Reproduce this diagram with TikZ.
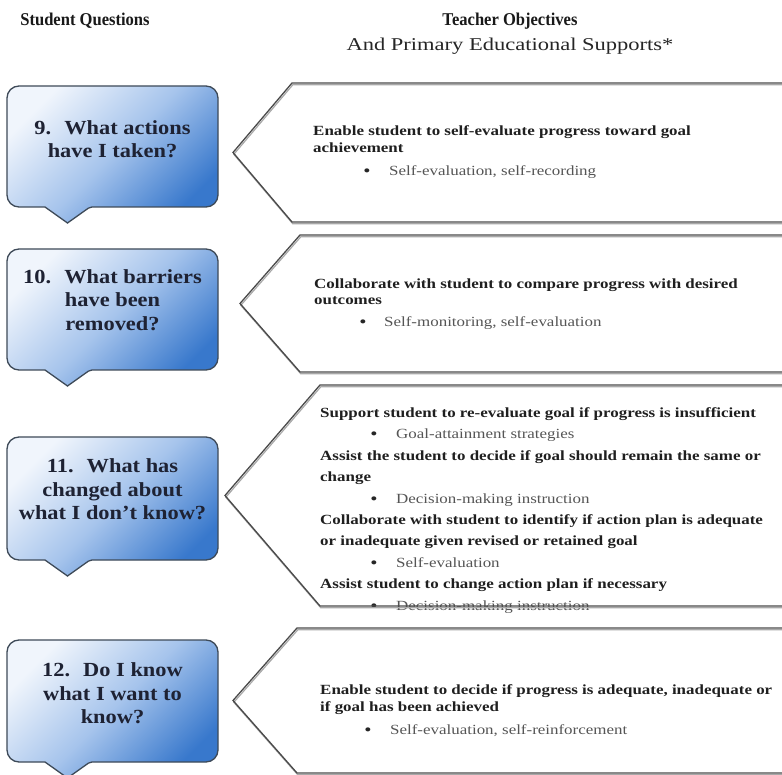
\documentclass[tikz,border=0pt]{standalone}
\usepackage{fontspec}
\setmainfont{Liberation Serif}
\newfontfamily\hdfont[FakeStretch=0.92]{Liberation Serif}
\newfontfamily\subfont[FakeStretch=1.25]{Liberation Serif}
\newfontfamily\qfont[FakeStretch=1.12]{Liberation Serif}
\newfontfamily\objfont[FakeStretch=1.21]{Liberation Serif}
\definecolor{qlight}{HTML}{F0F5FC}
\definecolor{qmid}{HTML}{A6C4EC}
\definecolor{qdark}{HTML}{3878CC}
\definecolor{qedge}{HTML}{3E4A58}
\definecolor{qtxt}{HTML}{1E2233}
\definecolor{oedge}{HTML}{4A4A4A}
\definecolor{oshadow}{HTML}{A8A8A8}
\definecolor{btxt}{HTML}{555555}

\newcommand\qcallout[2]{%
  \shadedraw[qbox] (112,#1) -- (218,#1) -- (218,#2) [rounded corners=2pt] -- (90,#2)
    [sharp corners] -- (67.5,#2+16) -- (45,#2) [rounded corners=12pt] -- (7,#2) -- (7,#1) -- cycle;}
\newcommand\objfill[4]{%
  \fill[white] (#3,{(#1+#2)/2}) -- (#4,#1) -- (800,#1) -- (800,#2) -- (#4,#2) -- cycle;}
\newcommand\objedge[4]{%
  \begin{scope}[shift={(0.8,1.8)}]
    \draw[oshadowline] (#3,{(#1+#2)/2}) -- (#4,#1) -- (800,#1) -- (800,#2) -- (#4,#2) -- cycle;
  \end{scope}
  \draw[oline] (#3,{(#1+#2)/2}) -- (#4,#1) -- (800,#1) -- (800,#2) -- (#4,#2) -- cycle;}

\begin{document}
\begin{tikzpicture}[x=1pt,y=-1pt,
  qbox/.style={draw=qedge, line width=1.3pt, rounded corners=12pt,
    top color=qlight, bottom color=qdark, middle color=qmid, shading angle=45},
  oline/.style={draw=oedge, line width=1.3pt, line join=miter},
  oshadowline/.style={draw=oshadow, line width=1.2pt},
  header/.style={font=\hdfont\bfseries\fontsize{18}{21}\selectfont, anchor=base, inner sep=0pt, text=black!90},
  subheader/.style={font=\subfont\fontsize{18}{21}\selectfont, anchor=base, inner sep=0pt, text=black!85},
  qtext/.style={font=\qfont\bfseries\fontsize{20}{23}\selectfont, anchor=base, inner sep=0pt, text=qtxt},
  otext/.style={font=\objfont\bfseries\fontsize{14}{17}\selectfont, anchor=base west, inner sep=0pt, text=black!88},
  oitem/.style={font=\objfont\fontsize{14}{17}\selectfont, anchor=base west, inner sep=0pt, text=btxt},
  obul/.style={font=\objfont\fontsize{17}{17}\selectfont, anchor=base, inner sep=0pt, text=black!85},
]
\useasboundingbox (0,0) rectangle (782,775);
\clip (0,0) rectangle (782,775);
\fill[white] (0,0) rectangle (782,775);

% headers
\node[header] (hsq) at (85,26) {Student Questions};
\node[header] (hto) at (510,26) {Teacher Objectives};
\node[subheader] (hsup) at (510,51) {And Primary Educational Supports*};

% left callouts
\qcallout{86}{207}
\qcallout{249}{370}
\qcallout{437}{560}
\qcallout{640}{762}

\node[qtext] (q9a) at (112.5,134.5) {9.~ What actions};
\node[qtext] (q9b) at (112.5,158) {have I taken?};

\node[qtext] (q10a) at (112.5,283.5) {10.~ What barriers};
\node[qtext] (q10b) at (112.5,307) {have been};
\node[qtext] (q10c) at (112.5,330.5) {removed?};

\node[qtext] (q11a) at (112.5,472.5) {11.~ What has};
\node[qtext] (q11b) at (112.5,496) {changed about};
\node[qtext] (q11c) at (112.5,519.5) {what I don’t know?};

\node[qtext] (q12a) at (112.5,676.5) {12.~ Do I know};
\node[qtext] (q12b) at (112.5,700) {what I want to};
\node[qtext] (q12c) at (112.5,723.5) {know?};

% right boxes (fill)
\objfill{83}{222}{233}{292}
\objfill{235}{372}{240}{300}
\objfill{385}{606}{225}{320}
\objfill{628}{773}{233}{297}

% box 9 text
\node[otext] (o9a) at (313,135.5) {Enable student to self-evaluate progress toward goal};
\node[otext] (o9b) at (313,152.5) {achievement};
\node[obul] (o9c) at (367,176.5) {\textbullet};
\node[oitem] (o9d) at (389,175.5) {Self-evaluation, self-recording};

% box 10 text
\node[otext] (o10a) at (314,288.5) {Collaborate with student to compare progress with desired};
\node[otext] (o10b) at (314,304.5) {outcomes};
\node[obul] (o10c) at (363,327.5) {\textbullet};
\node[oitem] (o10d) at (384,326.5) {Self-monitoring, self-evaluation};

% box 11 text
\node[otext] (o11a) at (320,417.5) {Support student to re-evaluate goal if progress is insufficient};
\node[obul] (o11b) at (374,439.9) {\textbullet};
\node[oitem] (o11c) at (396,438.9) {Goal-attainment strategies};
\node[otext] (o11d) at (320,460.3) {Assist the student to decide if goal should remain the same or};
\node[otext] (o11e) at (320,481.7) {change};
\node[obul] (o11f) at (374,504.1) {\textbullet};
\node[oitem] (o11g) at (396,503.1) {Decision-making instruction};
\node[otext] (o11h) at (320,524.5) {Collaborate with student to identify if action plan is adequate};
\node[otext] (o11i) at (320,545.9) {or inadequate given revised or retained goal};
\node[obul] (o11j) at (374,568.3) {\textbullet};
\node[oitem] (o11k) at (396,567.3) {Self-evaluation};
\node[otext] (o11l) at (320,588.7) {Assist student to change action plan if necessary};
\node[obul] (o11m) at (374,611.1) {\textbullet};
\node[oitem] (o11n) at (396,610.1) {Decision-making instruction};

% box 12 text
\node[otext] (o12a) at (320,694.5) {Enable student to decide if progress is adequate, inadequate or};
\node[otext] (o12b) at (320,711.5) {if goal has been achieved};
\node[obul] (o12c) at (368,735.5) {\textbullet};
\node[oitem] (o12d) at (390,734.5) {Self-evaluation, self-reinforcement};

% right box borders
\objedge{83}{222}{233}{292}
\objedge{235}{372}{240}{300}
\objedge{385}{606}{225}{320}
\objedge{628}{773}{233}{297}
\end{tikzpicture}
\end{document}
